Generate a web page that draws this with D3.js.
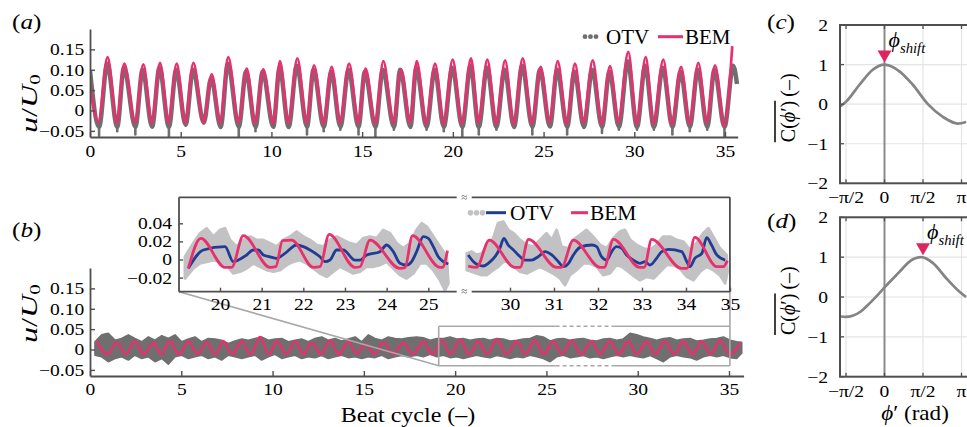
<!DOCTYPE html>
<html><head><meta charset="utf-8">
<script src="https://cdn.jsdelivr.net/npm/d3@7"></script>
<style>
body{margin:0;background:#fff}
svg{display:block}
text{font-family:"Liberation Serif","Times New Roman",serif;fill:#000}
</style>
</head><body>
<svg id="c" width="967" height="427"></svg>
<script>
// ===================== DATA =====================
// Panel (a): beat-cycle time series
const bemAT=[0,0.46,0.97,1.47,1.89,2.48,2.94,3.4,3.86,4.32,4.78,5.24,5.7,6.25,6.71,7.17,7.62,8.18,8.64,9.09,9.55,10.1,10.47,10.93,11.43,11.94,12.35,12.86,13.32,13.78,14.28,14.79,15.19,15.71,16.17,16.72,17.14,17.64,18.01,18.52,19.02,19.48,19.99,20.49,21.0,21.41,21.9,22.38,22.88,23.34,23.85,24.35,24.84,25.32,25.78,26.27,26.73,27.19,27.71,28.2,28.66,29.12,29.67,30.13,30.63,31.05,31.6,32.06,32.58,33.04,33.53,33.99,34.45,34.95,35.4];
const bemAV=[0.066,-0.028,0.131,-0.031,0.115,-0.030,0.113,-0.031,0.117,-0.030,0.115,-0.031,0.117,-0.030,0.089,-0.031,0.131,-0.030,0.103,-0.031,0.101,-0.032,0.121,-0.031,0.128,-0.031,0.111,-0.032,0.107,-0.031,0.115,-0.031,0.103,-0.032,0.121,-0.031,0.101,-0.030,0.121,-0.033,0.115,-0.034,0.125,-0.033,0.128,-0.030,0.125,-0.033,0.123,-0.034,0.128,-0.033,0.107,-0.030,0.121,-0.033,0.115,-0.030,0.123,-0.034,0.109,-0.030,0.144,-0.034,0.131,-0.033,0.125,-0.034,0.107,-0.033,0.117,-0.030,0.111,-0.039,0.158];
const otvAT=[0,0.5,0.95,1.5,1.87,2.5,2.9,3.42,3.83,4.35,4.75,5.27,5.68,6.27,6.68,7.2,7.6,8.2,8.6,9.12,9.52,10.1,10.45,10.95,11.4,11.96,12.32,12.88,13.3,13.8,14.25,14.8,15.15,15.73,16.14,16.75,17.1,17.66,17.98,18.55,19.0,19.5,19.97,20.52,20.97,21.43,21.88,22.4,22.85,23.37,23.82,24.38,24.8,25.35,25.75,26.3,26.7,27.22,27.68,28.22,28.63,29.15,29.64,30.15,30.6,31.08,31.57,32.1,32.55,33.06,33.5,34.02,34.42,34.97,35.45,35.66];
const otvAV=[0.097,-0.040,0.115,-0.040,0.105,-0.040,0.100,-0.040,0.105,-0.040,0.100,-0.035,0.100,-0.030,0.080,-0.040,0.115,-0.040,0.095,-0.040,0.095,-0.040,0.105,-0.040,0.110,-0.040,0.100,-0.040,0.095,-0.040,0.100,-0.040,0.095,-0.040,0.100,-0.040,0.100,-0.040,0.105,-0.040,0.100,-0.040,0.105,-0.040,0.110,-0.040,0.105,-0.040,0.100,-0.040,0.110,-0.040,0.100,-0.039,0.100,-0.040,0.095,-0.040,0.100,-0.040,0.095,-0.040,0.120,-0.040,0.110,-0.040,0.105,-0.040,0.095,-0.040,0.100,-0.040,0.100,-0.040,0.110,0.065];
// narrow downward OTV spikes below the troughs
const spikeAT=[0.5,1.5,2.5,4.35,7.2,8.2,9.12,10.95,11.96,12.88,13.8,14.8,15.73,16.75,17.66,18.55,19.5,20.52,21.43,22.4,23.37,24.38,26.3,27.22,28.22,29.15,30.15,31.08,32.1,33.06,34.02,34.97];
const spikeAV=[-0.062,-0.051,-0.059,-0.063,-0.043,-0.063,-0.051,-0.043,-0.059,-0.051,-0.047,-0.059,-0.067,-0.047,-0.043,-0.047,-0.051,-0.063,-0.059,-0.047,-0.043,-0.059,-0.059,-0.043,-0.055,-0.047,-0.047,-0.047,-0.059,-0.051,-0.047,-0.063];

// Panel (b): main time series
const bemBT=[0.37,0.95,1.46,1.95,2.46,2.95,3.47,3.9,4.38,4.88,5.38,5.9,6.39,6.85,7.3,7.8,8.31,8.8,9.31,9.8,10.23,10.75,11.23,11.7,12.14,12.65,13.15,13.65,14.15,14.6,15.06,15.6,16.07,16.6,17.14,17.7,18.26,18.75,19.26,19.75,20.27,20.75,21.27,21.75,22.28,22.8,23.37,23.85,24.37,24.85,25.38,25.85,26.38,26.9,27.48,27.95,28.48,28.95,29.48,29.95,30.49,30.95,31.49,32.0,32.5,33.0,33.5,34.0,34.51,35.05,35.6];
const bemBV=[0.021,-0.012,0.017,-0.011,0.020,-0.012,0.017,-0.011,0.020,-0.012,0.020,-0.011,0.017,-0.012,0.020,-0.011,0.020,-0.012,0.031,-0.012,0.020,-0.011,0.020,-0.012,0.017,-0.011,0.022,-0.012,0.020,-0.010,0.012,-0.011,0.017,-0.012,0.017,-0.011,0.020,-0.012,0.022,-0.011,0.024,-0.012,0.020,-0.011,0.025,-0.012,0.020,-0.011,0.023,-0.012,0.020,-0.011,0.022,-0.012,0.020,-0.011,0.020,-0.012,0.020,-0.011,0.020,-0.012,0.020,-0.011,0.020,-0.012,0.020,-0.011,0.022,-0.012,0.016];
const otvBT=[0.27,0.64,1.0,1.37,1.73,2.1,2.46,2.83,3.2,3.56,3.93,4.29,4.66,5.02,5.39,5.75,6.12,6.48,6.85,7.21,7.58,7.94,8.31,8.67,9.04,9.4,9.77,10.13,10.5,10.86,11.23,11.59,11.96,12.32,12.69,13.05,13.42,13.78,14.15,14.52,14.88,15.25,15.61,15.98,16.34,16.71,17.07,17.44,17.9,18.26,18.63,18.99,19.36,19.72,20.09,20.45,20.82,21.18,21.55,21.91,22.28,22.64,23.01,23.37,23.74,24.1,24.47,24.83,25.2,25.56,25.93,26.29,26.66,27.02,27.39,27.75,28.12,28.48,28.85,29.21,29.58,29.95,30.31,30.68,31.04,31.41,31.77,32.14,32.5,32.87,33.23,33.6,33.96,34.33,34.69,35.06,35.42,35.7];
const otvBHi=[0.019,0.036,0.040,0.023,0.027,0.036,0.027,0.019,0.031,0.023,0.034,0.027,0.036,0.019,0.026,0.031,0.019,0.027,0.026,0.023,0.015,0.021,0.026,0.023,0.027,0.031,0.023,0.026,0.027,0.019,0.023,0.026,0.019,0.027,0.031,0.023,0.027,0.021,0.026,0.031,0.019,0.036,0.027,0.023,0.031,0.027,0.026,0.029,
 0.031,0.029,0.023,0.027,0.027,0.031,0.026,0.027,0.023,0.026,0.027,0.023,0.027,0.026,0.021,0.023,0.026,0.027,0.034,0.031,0.021,0.026,0.027,0.023,0.026,0.027,0.023,0.021,0.026,0.027,0.023,0.026,0.040,0.036,0.031,0.027,0.023,0.027,0.029,0.023,0.026,0.027,0.021,0.023,0.026,0.027,0.031,0.023,0.019,0.018];
const otvBLo=[-0.014,-0.018,-0.030,-0.022,-0.018,-0.026,-0.014,-0.022,-0.018,-0.030,-0.022,-0.036,-0.018,-0.014,-0.022,-0.018,-0.014,-0.022,-0.018,-0.026,-0.014,-0.018,-0.022,-0.018,-0.014,-0.026,-0.018,-0.012,-0.022,-0.018,-0.014,-0.022,-0.018,-0.020,-0.015,-0.022,-0.018,-0.014,-0.020,-0.018,-0.022,-0.018,-0.020,-0.014,-0.022,-0.018,-0.015,-0.018,
 -0.014,-0.018,-0.012,-0.018,-0.014,-0.020,-0.018,-0.022,-0.018,-0.014,-0.018,-0.020,-0.015,-0.018,-0.022,-0.018,-0.020,-0.014,-0.018,-0.022,-0.030,-0.018,-0.014,-0.020,-0.018,-0.015,-0.020,-0.018,-0.022,-0.018,-0.014,-0.018,-0.014,-0.018,-0.020,-0.015,-0.022,-0.030,-0.018,-0.014,-0.018,-0.020,-0.026,-0.018,-0.014,-0.018,-0.014,-0.020,-0.022,-0.009];
// zoomed window shown in the inset (t range, u range, gap of the break)
const zoomT=[19.1,35.05], zoomV=[-0.04,0.057], gapT=[25.5,28.75];

// Inset: left segment (19-25.7) and right segment (29-35)
const insBemLT=[19.24,19.54,20.12,20.28,20.56,21.2,21.34,21.5,21.72,22.24,22.4,22.62,23.24,23.36,23.6,24.32,24.44,24.62,25.28,25.34,25.46];
const insBemLV=[-0.0098,0.0234,-0.0087,-0.0087,0.0263,-0.0087,-0.0080,0.0208,0.0215,-0.0087,-0.0080,0.0278,-0.0087,-0.0080,0.0215,-0.0098,-0.0090,0.0263,-0.0087,-0.0087,0.0098];
const insBemRT=[29.05,29.24,29.53,30.11,30.23,30.42,31.06,31.17,31.44,32.05,32.14,32.35,32.95,33.05,33.22,33.9,34.02,34.2,34.7,34.85,34.94];
const insBemRV=[-0.0072,-0.0087,0.0215,-0.0087,-0.0087,0.0223,-0.0087,-0.0087,0.0215,-0.0087,-0.0087,0.0223,-0.0087,-0.0087,0.0223,-0.0098,-0.0098,0.0245,-0.0079,-0.0079,-0.0013];
const insOtvLT=[19.24,19.6,20.12,20.32,20.44,20.64,20.8,20.92,21.04,21.2,21.36,21.56,21.84,22.0,22.16,22.4,22.52,22.64,22.8,22.96,23.24,23.36,23.52,23.84,24.0,24.16,24.32,24.48,24.6,24.72,24.88,25.0,25.12,25.24,25.36,25.48];
const insOtvLV=[-0.0098,0.0105,0.0142,-0.0024,-0.0006,0.005,0.0105,0.0105,0.005,0.003,0.0013,0.0068,0.016,0.0142,0.0105,0.003,-0.0024,-0.0006,0.0105,0.0105,-0.0006,-0.0006,0.005,0.0087,0.016,0.0087,-0.0042,-0.0061,-0.0024,0.0087,0.0252,0.0234,0.0142,0.003,-0.0024,-0.005];
const insOtvRT=[29.05,29.17,29.28,29.39,29.55,29.66,29.77,29.86,29.96,30.08,30.19,30.34,30.49,30.64,30.8,30.95,31.1,31.21,31.33,31.44,31.59,31.86,31.97,32.08,32.2,32.31,32.42,32.54,32.65,32.8,32.95,33.07,33.18,33.33,33.45,33.6,33.9,34.02,34.09,34.2,34.36,34.47,34.58,34.7,34.89];
const insOtvRV=[0.005,-0.0024,-0.0061,-0.0072,-0.0024,0.0031,0.0123,0.0234,0.016,0.0105,0.005,-0.0006,-0.0006,0.0031,0.0087,0.005,-0.0024,-0.0079,-0.0042,0.005,0.0134,0.016,0.0142,0.0031,-0.0006,0.0087,0.0142,0.0123,0.005,-0.0006,-0.0042,-0.0024,-0.0061,0.0013,0.0087,0.0112,0.0087,-0.0024,-0.0079,0.0013,0.0068,0.0241,0.016,0.005,-0.0006];
// raw OTV scatter band (upper / lower envelope)
const rawLHiT=[19.16,19.36,19.52,19.68,19.84,20.0,20.12,20.24,20.4,20.56,20.72,20.88,21.04,21.2,21.36,21.52,21.68,21.84,22.0,22.16,22.32,22.48,22.64,22.8,22.96,23.12,23.28,23.44,23.6,23.76,23.92,24.08,24.24,24.4,24.56,24.72,24.84,24.96,25.12,25.28,25.44];
const rawLHiV=[0.0031,0.0179,0.0289,0.0344,0.0252,0.0326,0.0344,0.0215,0.0142,0.0215,0.0252,0.0215,0.0215,0.0179,0.0142,0.0215,0.0252,0.0308,0.0252,0.0215,0.016,0.0142,0.0215,0.0252,0.0215,0.0179,0.016,0.0234,0.0252,0.0234,0.0326,0.0289,0.0179,0.0123,0.0179,0.0326,0.04,0.0363,0.0252,0.0142,0.0031];
const rawLLoT=[19.16,19.36,19.52,19.68,19.84,20.0,20.16,20.32,20.48,20.64,20.8,20.96,21.12,21.28,21.44,21.6,21.76,21.92,22.08,22.24,22.4,22.56,22.72,22.88,23.04,23.2,23.36,23.52,23.68,23.84,24.0,24.16,24.32,24.48,24.64,24.8,24.96,25.12,25.28,25.4,25.48];
const rawLLoV=[-0.0208,-0.0098,-0.0042,-0.0024,-0.0006,-0.0024,-0.0061,-0.0153,-0.0134,-0.0098,-0.0042,-0.0079,-0.0116,-0.0134,-0.0116,-0.0061,-0.0024,-0.0006,-0.0042,-0.0098,-0.0153,-0.019,-0.0134,-0.0079,-0.0116,-0.0153,-0.0134,-0.0079,-0.0079,-0.0061,-0.0024,-0.0098,-0.0171,-0.0208,-0.0153,-0.0042,-0.0042,-0.0116,-0.0227,-0.0337,-0.0263];
const rawRHiT=[29.02,29.13,29.24,29.36,29.47,29.62,29.73,29.85,29.96,30.08,30.23,30.38,30.53,30.68,30.83,30.95,31.06,31.17,31.33,31.44,31.59,31.74,31.89,32.05,32.2,32.35,32.5,32.61,32.73,32.88,33.03,33.18,33.33,33.48,33.64,33.79,33.94,34.09,34.24,34.39,34.51,34.62,34.77,34.92];
const rawRHiV=[0.0068,0.0087,0.005,0.0068,0.0142,0.0234,0.04,0.0418,0.0326,0.0289,0.0215,0.016,0.0142,0.0215,0.0289,0.0215,0.0326,0.0142,0.0123,0.0215,0.0271,0.0326,0.0252,0.016,0.0123,0.0234,0.0308,0.0326,0.0215,0.016,0.0123,0.0105,0.016,0.0252,0.0252,0.0215,0.0197,0.0105,0.0179,0.0289,0.0344,0.0252,0.0123,0.005];
const rawRLoT=[29.02,29.13,29.24,29.36,29.47,29.62,29.73,29.85,29.96,30.08,30.23,30.38,30.53,30.68,30.83,30.98,31.14,31.25,31.36,31.51,31.67,31.82,31.97,32.12,32.27,32.42,32.54,32.69,32.84,32.95,33.11,33.26,33.41,33.56,33.71,33.86,34.02,34.17,34.32,34.47,34.62,34.77,34.89,34.94];
const rawRLoV=[-0.0116,-0.0134,-0.0153,-0.0171,-0.0171,-0.0116,-0.0079,-0.0024,-0.0024,-0.0079,-0.0134,-0.0153,-0.0116,-0.0079,-0.0116,-0.0153,-0.0208,-0.0282,-0.0171,-0.0116,-0.0042,-0.0042,-0.0079,-0.0171,-0.0153,-0.0061,-0.0079,-0.0134,-0.019,-0.0227,-0.019,-0.0208,-0.0134,-0.0061,-0.0061,-0.0098,-0.019,-0.0227,-0.0134,-0.0079,-0.0116,-0.0171,-0.0263,-0.0134];

// Panels (c), (d): mean correlation vs phase shift
const phiC=[-1.836,-1.571,-1.02,-0.48,0,0.61,1.155,1.77,2.38,2.99,3.33];
const corrC=[-0.07,0.06,0.49,0.87,1.0,0.83,0.49,0.0,-0.32,-0.49,-0.45];
const phiD=[-1.80,-1.57,-1.3,-0.98,-0.61,-0.34,0,0.61,1.02,1.5,1.98,2.52,3.06,3.33];
const corrD=[-0.49,-0.5,-0.47,-0.37,-0.16,0.01,0.24,0.63,0.89,1.0,0.85,0.47,0.13,0.0];
const phiShift=[0, Math.PI/2];

// ticks
const xTicks=[0,5,10,15,20,25,30,35];
const uTicks=[-0.05,0,0.05,0.10,0.15];
const uTickLabels=["\u22120.05","0","0.05","0.10","0.15"];
const insXTicksL=[20,21,22,23,24,25];
const insXTicksR=[30,31,32,33,34,35];
const insYTicks=[-0.02,0,0.02,0.04];
const insYTickLabels=["\u22120.02","0","0.02","0.04"];
const phiTicks=[-Math.PI/2,0,Math.PI/2,Math.PI];
const phiTickLabels=["\u2212\u03c0/2","0","\u03c0/2","\u03c0"];
const cTicks=[-2,-1,0,1,2];
const cTickLabels=["\u22122","\u22121","0","1","2"];

// ===================== DRAWING =====================
const svg=d3.select("#c");
const PINK="#e8306d", GRAY="#6f6f6f", LGRAY="#c2c2c4", BLUE="#213c92", AX="#4f4f4f";
const SX=1.15;
const PHI="\u03d5";
const zip=(a,b)=>a.map((t,i)=>[t,b[i]]).filter(d=>d[1]!==undefined);

function T(g,x,y,parts,o={}){
  const fs=o.size||17, sx=o.sx||SX, rot=o.rot||0;
  const t=g.append("text").attr("transform",`translate(${x},${y}) rotate(${rot}) scale(${sx},1)`)
    .attr("font-size",fs).attr("text-anchor",o.anchor||"start");
  if(typeof parts==="string") parts=[{s:parts}];
  parts.forEach(p=>{const ts=t.append("tspan").text(p.s);
    if(p.it) ts.attr("font-style","italic"); if(p.fs) ts.attr("font-size",p.fs); if(p.dy) ts.attr("dy",p.dy);});
  return t;
}
function styleAxis(sel,fs=17,sx=SX){
  sel.attr("font-size",fs).attr("font-family",null);
  sel.select(".domain").attr("stroke",AX).attr("stroke-width",1.8);
  sel.selectAll(".tick line").attr("stroke",AX).attr("stroke-width",1.4);
  sel.selectAll(".tick text").attr("fill","#000").attr("transform",`scale(${sx},1)`);
}
const defs=svg.append("defs");
function clip(id,x,y,w,h){defs.append("clipPath").attr("id",id).append("rect").attr("x",x).attr("y",y).attr("width",w).attr("height",h);}

// ---------- (a) ----------
const xA=d3.scaleLinear().domain([0,35.7]).range([90,737.7]);
const yA=d3.scaleLinear().domain([-0.065,0.2]).range([137,29]);
clip("clipA",90,20,660,117);
const gA=svg.append("g");
const dA=gA.append("g").attr("clip-path","url(#clipA)");
dA.selectAll("line.spike").data(zip(spikeAT,spikeAV)).enter().append("line")
  .attr("x1",d=>xA(d[0])).attr("x2",d=>xA(d[0])).attr("y1",yA(-0.036)).attr("y2",d=>yA(d[1]))
  .attr("stroke",GRAY).attr("stroke-width",2.6).attr("stroke-linecap","round");
dA.append("path").datum(zip(otvAT,otvAV))
  .attr("d",d3.line().x(d=>xA(d[0])).y(d=>yA(d[1])).curve(d3.curveMonotoneX))
  .attr("fill","none").attr("stroke",GRAY).attr("stroke-width",4.5).attr("stroke-linejoin","round");
dA.append("path").datum(zip(bemAT,bemAV))
  .attr("d",d3.line().x(d=>xA(d[0])).y(d=>yA(d[1])).curve(d3.curveMonotoneX))
  .attr("fill","none").attr("stroke",PINK).attr("stroke-width",2.7);
gA.append("g").attr("transform","translate(90,0)")
  .call(d3.axisLeft(yA).tickValues(uTicks).tickFormat((d,i)=>uTickLabels[i]).tickSizeInner(-5).tickSizeOuter(0).tickPadding(5))
  .call(styleAxis);
gA.append("g").attr("transform","translate(0,137)")
  .call(d3.axisBottom(xA).tickValues(xTicks).tickFormat(d3.format("d")).tickSizeInner(-5).tickSizeOuter(0).tickPadding(8))
  .call(styleAxis);
T(gA,12,29,[{s:"("},{s:"a",it:1},{s:")"}],{size:21,sx:1.2});
T(gA,37,133,[{s:"u",it:1},{s:"/"},{s:"U",it:1},{s:"0",fs:15,dy:3}],{size:23,rot:-90,sx:1.4});
// legend (a)
gA.selectAll("circle.lg").data([0,1,2]).enter().append("circle")
  .attr("cx",i=>585+i*5.5).attr("cy",36.7).attr("r",2.4).attr("fill",GRAY);
T(gA,606,43.5,"OTV",{size:20,sx:1.05});
gA.append("line").attr("x1",658).attr("x2",683).attr("y1",36.7).attr("y2",36.7).attr("stroke",PINK).attr("stroke-width",3);
T(gA,685,43.5,"BEM",{size:20,sx:1.05});

// ---------- (b) ----------
const xB=d3.scaleLinear().domain([0,35.8]).range([90,743.6]);
const yB=d3.scaleLinear().domain([-0.065,0.2]).range([376,268]);
clip("clipB",90,260,660,116);
const gB=svg.append("g");
const dB=gB.append("g").attr("clip-path","url(#clipB)");
dB.append("path").datum(otvBT.map((t,i)=>[t,otvBLo[i],otvBHi[i]]))
  .attr("d",d3.area().x(d=>xB(d[0])).y0(d=>yB(d[1])).y1(d=>yB(d[2])).curve(d3.curveLinear))
  .attr("fill",GRAY).attr("stroke",GRAY).attr("stroke-width",1.5).attr("stroke-linejoin","round");
dB.append("path").datum(zip(bemBT,bemBV))
  .attr("d",d3.line().x(d=>xB(d[0])).y(d=>yB(d[1])).curve(d3.curveMonotoneX))
  .attr("fill","none").attr("stroke",PINK).attr("stroke-width",2.5);
gB.append("g").attr("transform","translate(90,0)")
  .call(d3.axisLeft(yB).tickValues(uTicks).tickFormat((d,i)=>uTickLabels[i]).tickSizeInner(-5).tickSizeOuter(0).tickPadding(5))
  .call(styleAxis);
gB.append("g").attr("transform","translate(0,376)")
  .call(d3.axisBottom(xB).tickValues(xTicks).tickFormat(d3.format("d")).tickSizeInner(-5).tickSizeOuter(0).tickPadding(7))
  .call(styleAxis);
T(gB,408,422,"Beat cycle (\u2013)",{size:20,sx:1.2,anchor:"middle"});
T(gB,12,237,[{s:"("},{s:"b",it:1},{s:")"}],{size:21,sx:1.2});
T(gB,37,343,[{s:"u",it:1},{s:"/"},{s:"U",it:1},{s:"0",fs:15,dy:3}],{size:23,rot:-90,sx:1.4});

// zoom rectangle + connectors
const ZL=xB(zoomT[0]), ZR=xB(zoomT[1]), ZT=yB(zoomV[1]), ZBt=yB(zoomV[0]), G1=xB(gapT[0]), G2=xB(gapT[1]);
const IL=179, IR=ZR, IT=197.3, IB=291.7, BRK1=456.7, BRK2=471.7;
const zc="#a8a8a8";
function seg(g,x1,y1,x2,y2,col,w,dash){const l=g.append("line").attr("x1",x1).attr("y1",y1).attr("x2",x2).attr("y2",y2).attr("stroke",col).attr("stroke-width",w); if(dash) l.attr("stroke-dasharray",dash); return l;}
[ZT,ZBt].forEach(y=>{seg(gB,ZL,y,G1,y,zc,1.6);seg(gB,G1,y,G2,y,zc,1.6,"4,3");seg(gB,G2,y,ZR,y,zc,1.6);});
seg(gB,ZL,ZT,ZL,ZBt,zc,1.6);
seg(gB,ZR,IB,ZR,ZBt,zc,1.6);
seg(gB,IL,IB,ZL,ZBt,zc,1.6);

// ---------- inset ----------
const gI=svg.append("g");
gI.append("rect").attr("x",IL).attr("y",IT).attr("width",IR-IL).attr("height",IB-IT).attr("fill","#fff");
const xL=d3.scaleLinear().domain([20,25]).range([220,428.3]);
const xR=d3.scaleLinear().domain([30,35]).range([510,730]);
const yI=d3.scaleLinear().domain([0,0.04]).range([259.5,223.3]);
clip("clipIL",IL,IT,BRK1-IL,IB-IT);
clip("clipIR",464,IT,IR-464,IB-IT);
function insetSeg(id,xs,hiT,hiV,loT,loV,oT,oV,bT,bV){
  const g=gI.append("g").attr("clip-path",`url(#${id})`);
  const poly=zip(hiT,hiV).concat(zip(loT,loV).reverse());
  g.append("path").datum(poly).attr("d",d3.line().x(d=>xs(d[0])).y(d=>yI(d[1])).curve(d3.curveLinearClosed))
    .attr("fill",LGRAY).attr("stroke",LGRAY).attr("stroke-width",3).attr("stroke-linejoin","round");
  g.append("path").datum(zip(oT,oV)).attr("d",d3.line().x(d=>xs(d[0])).y(d=>yI(d[1])).curve(d3.curveMonotoneX))
    .attr("fill","none").attr("stroke",BLUE).attr("stroke-width",2.8);
  g.append("path").datum(zip(bT,bV)).attr("d",d3.line().x(d=>xs(d[0])).y(d=>yI(d[1])).curve(d3.curveMonotoneX))
    .attr("fill","none").attr("stroke",PINK).attr("stroke-width",2.8);
}
insetSeg("clipIL",xL,rawLHiT,rawLHiV,rawLLoT,rawLLoV,insOtvLT,insOtvLV,insBemLT,insBemLV);
insetSeg("clipIR",xR,rawRHiT,rawRHiV,rawRLoT,rawRLoV,insOtvRT,insOtvRV,insBemRT,insBemRV);
// inset frame
seg(gI,IL,IT,IL,IB,AX,1.8);
seg(gI,IR,IT,IR,IB,AX,1.8);
[IT,IB].forEach(y=>{seg(gI,IL,y,BRK1,y,AX,1.8);seg(gI,BRK2,y,IR,y,AX,1.8);
  gI.append("text").attr("x",(BRK1+BRK2)/2).attr("y",y+3.5).attr("text-anchor","middle").attr("font-size",11).style("fill",AX).text("\u2248");});
const yIax=gI.append("g").attr("transform",`translate(${IL},0)`)
  .call(d3.axisLeft(yI).tickValues(insYTicks).tickFormat((d,i)=>insYTickLabels[i]).tickSizeInner(-4).tickSizeOuter(0).tickPadding(6))
  .call(styleAxis); yIax.select(".domain").remove();
[[xL,insXTicksL],[xR,insXTicksR]].forEach(([s,tv])=>{
  const ax=gI.append("g").attr("transform",`translate(0,${IB})`)
    .call(d3.axisBottom(s).tickValues(tv).tickFormat(d3.format("d")).tickSizeInner(-4).tickSizeOuter(0).tickPadding(6))
    .call(styleAxis); ax.select(".domain").remove();});
// inset legend
gI.selectAll("circle.lg").data([0,1,2]).enter().append("circle")
  .attr("cx",i=>470.5+i*6).attr("cy",212.7).attr("r",2.8).attr("fill",LGRAY);
seg(gI,486,212.7,506,212.7,BLUE,3);
T(gI,510,219.8,"OTV",{size:21,sx:1.02});
seg(gI,571,212.7,588,212.7,PINK,3);
T(gI,590,219.8,"BEM",{size:21,sx:1.02});

// ---------- (c), (d) ----------
function phasePanel(top,bot,phi,corr,shift,letter,letterY,showXLabel){
  const g=svg.append("g");
  const xP=d3.scaleLinear().domain([-Math.PI/2,Math.PI]).range([846,961.5]);
  const yP=d3.scaleLinear().domain([-2,2]).range([bot,top]);
  const L=840, R=990;
  phiTicks.forEach(p=>{ if(p!==0) seg(g,xP(p),top,xP(p),bot,"#e4e4e4",1.2); });
  cTicks.forEach(c=>seg(g,L,yP(c),R,yP(c),"#e4e4e4",1.2));
  seg(g,xP(0),top,xP(0),bot,"#8a8a8a",2);
  const id="clipP"+letter; clip(id,L,top,R-L,bot-top);
  g.append("path").attr("clip-path",`url(#${id})`).datum(zip(phi,corr))
    .attr("d",d3.line().x(d=>xP(d[0])).y(d=>yP(d[1])).curve(d3.curveMonotoneX))
    .attr("fill","none").attr("stroke","#848484").attr("stroke-width",2.7);
  g.append("rect").attr("x",L).attr("y",top).attr("width",R-L).attr("height",bot-top)
    .attr("fill","none").attr("stroke",AX).attr("stroke-width",2);
  cTicks.forEach(c=>seg(g,L,yP(c),L+4,yP(c),AX,1.3));
  phiTicks.forEach(p=>{seg(g,xP(p),bot,xP(p),bot-4,AX,1.3);seg(g,xP(p),top,xP(p),top+4,AX,1.3);});
  cTicks.forEach((c,i)=>T(g,828,yP(c)+6,cTickLabels[i],{size:17,anchor:"end"}));
  phiTicks.forEach((p,i)=>T(g,xP(p),bot+20,phiTickLabels[i],{size:17,anchor:"middle"}));
  // marker
  const mx=xP(shift), my=yP(1)-2;
  g.append("path").attr("d",`M${mx-7},${my-12}L${mx+7},${my-12}L${mx},${my}Z`).attr("fill","#e0245e");
  T(g,mx+4,my-16,[{s:PHI,it:1},{s:"shift",it:1,fs:14,dy:6}],{size:21,sx:1.05});
  // letter
  T(g,767,letterY,[{s:"("},{s:letter,it:1},{s:")"}],{size:21,sx:1.2});
  // y label with overline
  const yl=g.append("g").attr("transform",`translate(795,${(top+bot)/2+38}) rotate(-90)`);
  const t1=yl.append("text").attr("font-size",20);
  t1.append("tspan").text("C(");t1.append("tspan").attr("font-style","italic").text(PHI);t1.append("tspan").text("\u2032)");
  const w=t1.node().getComputedTextLength();
  yl.append("text").attr("font-size",20).attr("x",w+4).text("(\u2013)");
  yl.append("line").attr("x1",0).attr("x2",w).attr("y1",-20).attr("y2",-20).attr("stroke","#000").attr("stroke-width",1.5);
  if(showXLabel) T(g,915,420,[{s:PHI,it:1},{s:"\u2032 (rad)"}],{size:21,sx:1.1,anchor:"middle"});
  return {xP,yP};
}
phasePanel(25,183.3,phiC,corrC,phiShift[0],"c",29,false);
phasePanel(217.3,376.7,phiD,corrD,phiShift[1],"d",228,true);
</script>
</body></html>
